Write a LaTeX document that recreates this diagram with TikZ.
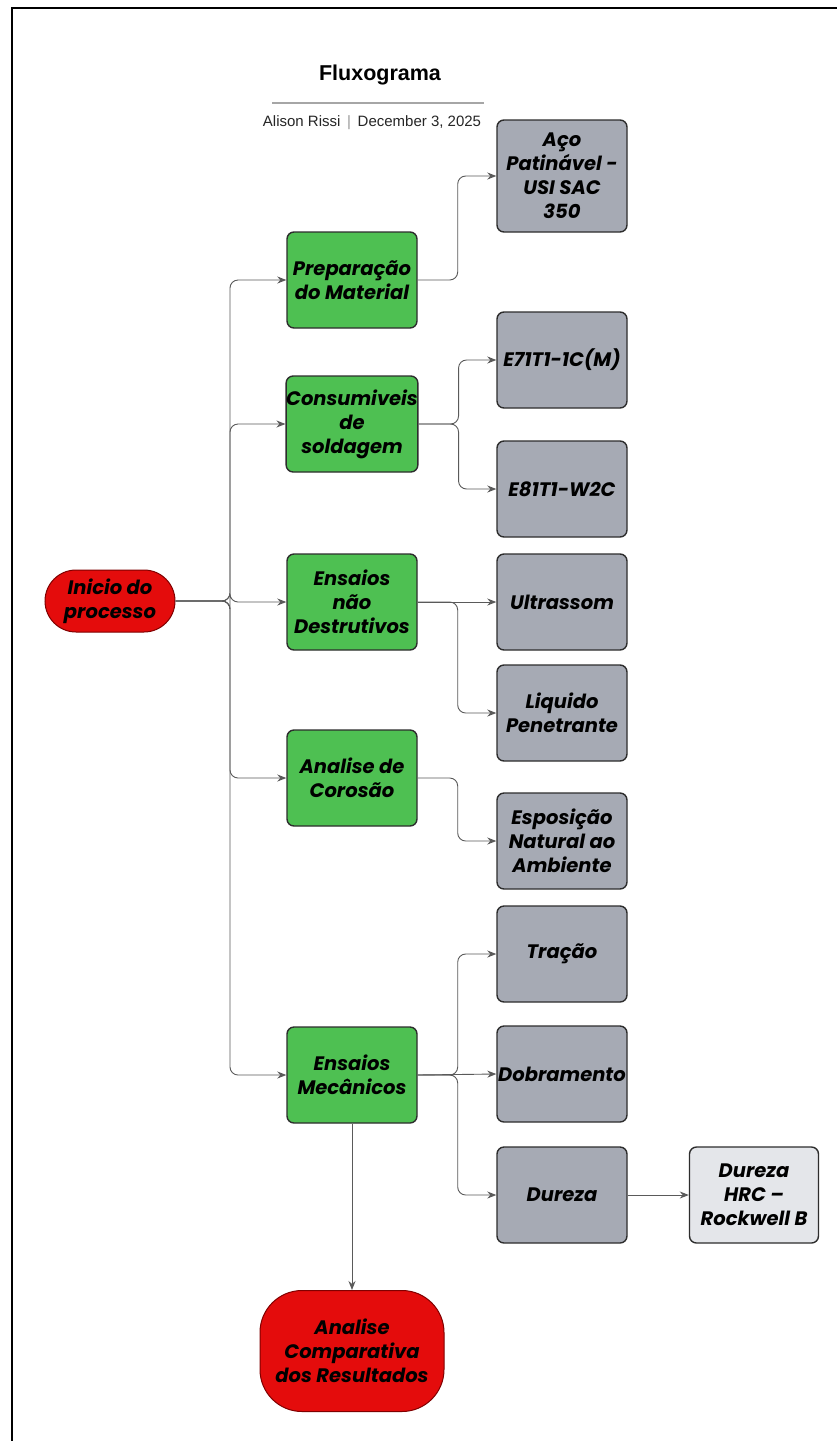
\documentclass[tikz,border=0pt]{standalone}
\usepackage{fontspec}
\setmainfont{Poppins}
\newfontfamily\titlefont{Liberation Sans}
\usetikzlibrary{arrows.meta}
\definecolor{redfill}{RGB}{228,12,12}
\definecolor{greenfill}{RGB}{78,192,82}
\definecolor{grayfill}{RGB}{166,170,180}
\definecolor{lightfill}{RGB}{228,230,234}
\definecolor{edge}{RGB}{45,45,45}
\definecolor{conn}{RGB}{90,90,90}
\begin{document}
\begin{tikzpicture}[x=1pt,y=-1pt,
  box/.style={draw=edge,line width=1.4pt,rounded corners=7pt,minimum width=130pt,minimum height=96pt,
    align=center,font=\fontsize{19.5}{24}\selectfont\bfseries\itshape,inner sep=0pt,text=black},
  greenbox/.style={box,fill=greenfill},
  graybox/.style={box,fill=grayfill},
  lightbox/.style={box,fill=lightfill,minimum width=129pt},
  redbox/.style={box,fill=redfill,draw=red!50!black,line width=1pt},
  conn/.style={draw=conn,line width=0.9pt,rounded corners=8pt,-{Stealth[length=9pt,width=7pt]}}
]
\useasboundingbox (0,0) rectangle (837,1441);
\fill[white] (0,0) rectangle (837,1441);
% frame
\draw[line width=2pt,black] (12,1441) -- (12,8) -- (837,8);
% header
\node[font=\titlefont\fontsize{21.5}{24}\selectfont\bfseries] (title) at (380,75) {Fluxograma};
\draw[line width=1.4pt,black!35] (272,103) -- (484,103);
\node[font=\titlefont\fontsize{15}{18}\selectfont,text=black!85] (sub) at (372,123) {Alison Rissi \,{\color{black!40}|}\, December 3, 2025};
% start / end
\node[redbox,minimum width=130pt,minimum height=62pt,rounded corners=31pt] (ini) at (110,601) {Inicio do\\processo};
\node[redbox,minimum width=184pt,minimum height=121pt,rounded corners=42pt] (fim) at (352,1351) {Analise\\Comparativa\\dos Resultados};
% green
\node[greenbox] (prep) at (352,280) {Preparação\\do Material};
\node[greenbox] (cons) at (352,424) {Consumiveis\\de\\soldagem};
\node[greenbox] (end) at (352,602) {Ensaios\\não\\Destrutivos};
\node[greenbox] (cor) at (352,778) {Analise de\\Corosão};
\node[greenbox] (mec) at (352,1075) {Ensaios\\Mecânicos};
% gray
\node[graybox,minimum height=112pt] (aco) at (562,176) {Aço\\Patinável -\\USI SAC\\350};
\node[graybox] (e71) at (562,360) {E71T1-1C(M)};
\node[graybox] (e81) at (562,489) {E81T1-W2C};
\node[graybox] (ult) at (562,602) {Ultrassom};
\node[graybox] (liq) at (562,713) {Liquido\\Penetrante};
\node[graybox] (esp) at (562,841) {Esposição\\Natural ao\\Ambiente};
\node[graybox] (tra) at (562,954) {Tração};
\node[graybox] (dob) at (562,1074) {Dobramento};
\node[graybox] (dur) at (562,1195) {Dureza};
\node[lightbox] (hrc) at (754,1195) {Dureza\\HRC –\\Rockwell B};
% connectors from start
\coordinate (bus) at (230,601);
\foreach \t in {prep,cons,end,cor,mec}
  \draw[conn] (ini.east) -- (bus) |- (\t.west);
% green to gray
\draw[conn] (prep.east) -- ++(40,0) |- (aco.west);
\draw[conn] (cons.east) -- ++(40,0) |- (e71.west);
\draw[conn] (cons.east) -- ++(40,0) |- (e81.west);
\draw[conn] (end.east) -- (ult.west);
\draw[conn] (end.east) -- ++(40,0) |- (liq.west);
\draw[conn] (cor.east) -- ++(40,0) |- (esp.west);
\draw[conn] (mec.east) -- ++(40,0) |- (tra.west);
\draw[conn] (mec.east) -- (dob.west);
\draw[conn] (mec.east) -- ++(40,0) |- (dur.west);
\draw[conn] (dur.east) -- (hrc.west);
\draw[conn] (mec.south) -- (fim.north);
\end{tikzpicture}
\end{document}
